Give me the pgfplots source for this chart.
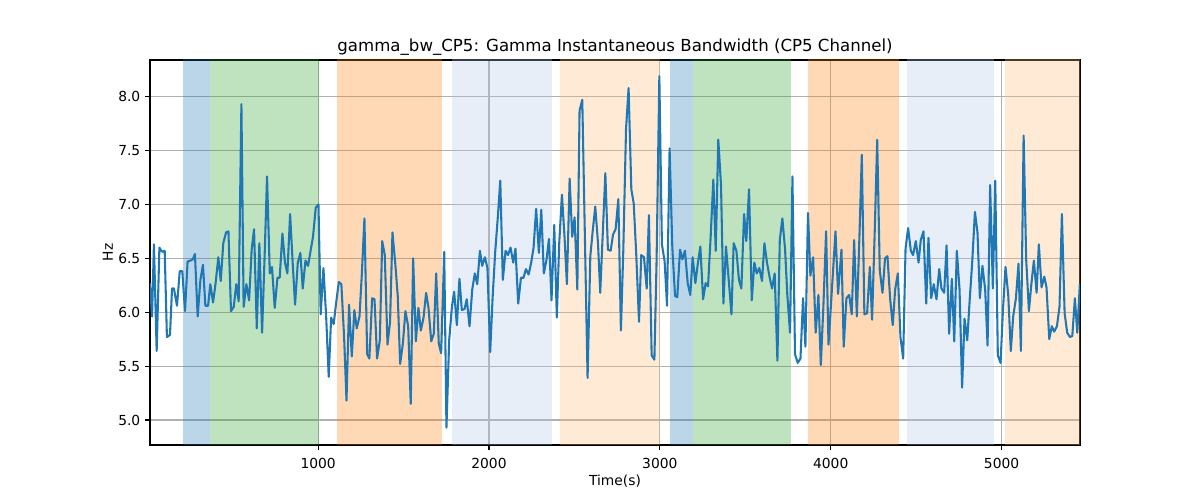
\documentclass[border=0pt]{standalone}
\usepackage{pgfplots}
\pgfplotsset{compat=1.18}
\usepackage{pgfplotstable}
\usepackage{fontspec}
\setmainfont{DejaVu Sans}
\definecolor{tabblue}{HTML}{1F77B4}
\definecolor{tabgreen}{HTML}{2CA02C}
\definecolor{taborange}{HTML}{FF7F0E}
\definecolor{ltblue}{HTML}{AEC7E8}
\definecolor{ltorange}{HTML}{FFBB78}
\definecolor{gridgray}{HTML}{B0B0B0}
\pgfplotstableread{
x y
16 6.27
28 5.96
39 6.63
55 5.64
71 6.60
82 6.57
90 6.56
102 6.57
115 5.77
125 5.78
133 5.79
145 6.22
156 6.22
174 6.06
190 6.38
205 6.38
221 6.01
236 6.47
254 6.48
266 6.49
279 6.54
295 5.96
311 6.30
326 6.44
340 6.06
356 6.06
369 6.26
385 6.09
400 6.27
416 6.51
430 6.29
445 6.64
461 6.74
475 6.75
490 6.01
506 6.05
521 6.26
535 6.10
551 7.93
564 6.05
580 6.26
596 6.11
611 6.58
625 6.77
641 5.85
656 6.64
672 5.81
687 6.53
701 7.26
717 6.36
730 6.42
746 6.04
762 6.32
775 6.32
791 6.73
806 6.46
820 6.36
836 6.91
851 6.46
865 6.07
881 6.46
896 6.55
910 6.22
926 6.48
941 6.43
957 6.58
970 6.70
986 6.97
1002 7.00
1015 5.98
1031 6.41
1047 5.96
1062 5.40
1076 5.95
1091 5.89
1105 6.08
1121 6.28
1136 6.26
1152 5.77
1166 5.18
1181 6.07
1197 5.59
1212 6.02
1226 5.85
1242 5.96
1255 6.33
1271 6.87
1287 5.61
1300 5.57
1316 6.13
1330 6.12
1345 5.57
1361 5.74
1375 6.66
1390 6.53
1406 5.70
1421 5.91
1435 6.74
1451 6.46
1466 6.15
1480 5.52
1496 5.71
1511 6.01
1527 5.87
1542 5.15
1556 6.50
1572 5.73
1587 6.04
1601 5.83
1617 5.95
1632 6.18
1646 6.04
1662 5.73
1677 5.80
1691 6.36
1706 5.71
1720 5.62
1738 6.56
1751 4.93
1767 5.74
1783 6.05
1796 6.19
1812 5.88
1827 6.31
1841 6.02
1857 6.03
1870 6.12
1886 5.87
1902 6.21
1917 6.36
1931 6.26
1947 6.57
1960 6.43
1976 6.51
1991 6.41
2007 5.63
2021 6.13
2036 6.55
2052 6.89
2066 7.22
2081 6.30
2097 6.57
2111 6.53
2126 6.60
2142 6.46
2155 6.59
2171 6.08
2187 6.32
2202 6.32
2216 6.40
2232 6.35
2247 6.46
2261 6.60
2276 6.96
2292 6.55
2306 6.95
2321 6.36
2337 6.49
2351 6.68
2366 6.11
2382 6.81
2397 5.95
2411 6.64
2427 7.09
2442 6.70
2456 6.26
2472 7.24
2487 6.70
2501 6.88
2517 6.21
2530 7.87
2546 7.97
2577 5.39
2593 6.52
2608 6.77
2622 6.98
2638 6.64
2651 6.18
2681 7.29
2696 6.58
2712 6.57
2726 6.72
2741 6.77
2757 7.05
2772 5.83
2786 6.57
2802 7.70
2817 8.08
2833 7.14
2847 7.01
2862 6.53
2878 5.91
2891 6.53
2907 6.51
2923 6.22
2936 6.90
2952 5.60
2968 5.56
2981 6.49
2997 8.19
3012 6.63
3028 6.47
3042 6.06
3057 7.52
3073 6.60
3089 6.15
3102 6.14
3118 6.58
3132 6.49
3147 6.57
3163 6.27
3178 6.16
3192 6.51
3208 6.27
3223 6.46
3237 6.61
3253 6.12
3268 6.27
3282 6.24
3297 6.69
3313 7.23
3327 6.57
3342 7.60
3358 7.18
3372 6.08
3387 6.61
3403 6.30
3419 5.98
3432 6.64
3448 6.57
3463 6.30
3477 6.22
3493 6.91
3506 6.66
3522 7.14
3538 6.11
3553 6.46
3567 6.36
3582 6.41
3598 6.29
3612 6.64
3627 6.46
3643 6.32
3657 6.22
3672 6.36
3688 5.55
3702 6.67
3717 6.87
3733 6.58
3746 6.16
3762 5.81
3776 7.26
3791 5.61
3807 5.53
3823 5.57
3838 6.13
3852 5.68
3867 6.92
3881 6.34
3897 6.51
3912 5.81
3928 6.16
3942 5.51
3957 6.05
3973 6.75
3987 5.70
4028 6.75
4043 6.17
4063 6.58
4076 5.68
4092 6.13
4108 6.16
4123 5.98
4137 6.67
4153 5.96
4168 6.70
4182 7.46
4197 5.98
4213 5.99
4229 6.42
4242 5.93
4258 6.77
4272 7.60
4287 6.39
4303 6.18
4318 6.50
4332 6.52
4348 6.12
4363 5.88
4377 6.21
4393 6.36
4408 5.77
4424 5.57
4438 6.59
4453 6.78
4469 6.57
4482 6.53
4498 6.66
4514 6.46
4527 6.67
4543 6.75
4559 6.08
4572 6.69
4588 6.13
4603 6.26
4619 6.12
4635 6.40
4648 6.22
4664 6.18
4678 6.62
4693 5.80
4709 6.31
4723 5.73
4738 6.57
4754 6.21
4769 5.30
4783 5.94
4799 5.74
4814 6.13
4828 6.46
4844 6.93
4859 6.74
4873 6.13
4888 6.43
4904 6.21
4918 5.69
4933 7.18
4949 6.22
4963 7.22
4978 5.60
4994 5.53
5008 6.02
5023 6.42
5039 6.16
5054 5.64
5068 5.96
5084 6.13
5099 6.45
5113 5.64
5129 7.64
5144 6.49
5160 6.01
5173 6.24
5189 6.48
5205 6.18
5218 6.63
5234 6.23
5250 6.33
5263 6.23
5279 5.75
5294 5.87
5308 5.82
5324 5.87
5339 6.05
5353 6.91
5369 5.99
5384 5.81
5400 5.77
5414 5.78
5429 6.13
5443 5.81
5458 6.26
}\datatable
\begin{document}
\begin{tikzpicture}
\path (0,0) rectangle (12in,5in);
\begin{axis}[
  at={(1.5in,0.55in)}, anchor=south west,
  scale only axis, width=9.3in, height=3.85in,
  xmin=16, xmax=5459, ymin=4.768, ymax=8.34,
  xtick={1000,2000,3000,4000,5000},
  ytick={5.0,5.5,6.0,6.5,7.0,7.5,8.0},
  yticklabel style={/pgf/number format/.cd,fixed,fixed zerofill,precision=1},
  /pgf/number format/assume math mode=true,
  xticklabel style={/pgf/number format/1000 sep={}, yshift=-2.5pt},
  tick label style={font=\fontsize{10}{12}\selectfont},
  tick align=outside, major tick length=3.5pt,
  tick style={black, line width=0.8pt},
  xtick pos=bottom, ytick pos=left,
  grid=major, grid style={gridgray, line width=0.8pt},
  axis line style={black, line width=0.8pt},
  title={gamma\_bw\_CP5: Gamma Instantaneous Bandwidth (CP5 Channel)},
  title style={font=\fontsize{12}{14}\selectfont, yshift=-6.5pt},
  xlabel={Time(s)}, ylabel={Hz},
  label style={font=\fontsize{10}{12}\selectfont},
  xlabel style={yshift=2.5pt}, ylabel style={yshift=-3pt},
  region/.style={fill=#1, draw=none, fill opacity=0.3, forget plot},
]
\addplot[region=tabblue] coordinates {(207,4) (207,9) (367,9) (367,4)};
\addplot[region=tabgreen] coordinates {(367,4) (367,9) (1008,9) (1008,4)};
\addplot[region=taborange] coordinates {(1109,4) (1109,9) (1726,9) (1726,4)};
\addplot[region=ltblue] coordinates {(1781,4) (1781,9) (2370,9) (2370,4)};
\addplot[region=ltorange] coordinates {(2413,4) (2413,9) (2999,9) (2999,4)};
\addplot[region=tabblue] coordinates {(3057,4) (3057,9) (3194,9) (3194,4)};
\addplot[region=tabgreen] coordinates {(3194,4) (3194,9) (3770,9) (3770,4)};
\addplot[region=taborange] coordinates {(3867,4) (3867,9) (4398,9) (4398,4)};
\addplot[region=ltblue] coordinates {(4445,4) (4445,9) (4953,9) (4953,4)};
\addplot[region=ltorange] coordinates {(5019,4) (5019,9) (5500,9) (5500,4)};
\addplot[tabblue, line width=1.5pt, mark=none, line join=round] table[x=x,y=y] {\datatable};
\end{axis}
\end{tikzpicture}
\end{document}
